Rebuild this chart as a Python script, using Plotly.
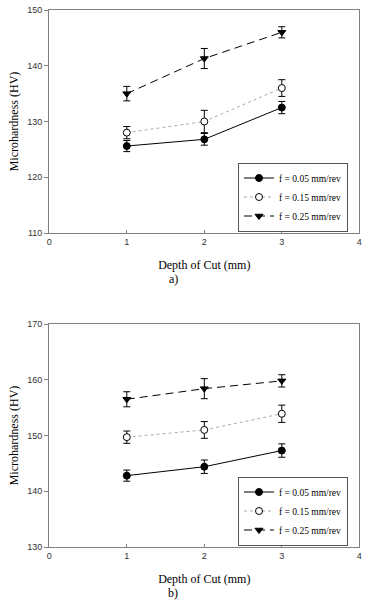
import plotly.graph_objects as go

depth = [1, 2, 3]
series_names = ["f = 0.05 mm/rev", "f = 0.15 mm/rev", "f = 0.25 mm/rev"]

# panel a)
a_f005 = [125.6, 126.8, 132.5]
a_f005_err = [1.0, 1.05, 1.1]
a_f015 = [128.0, 130.0, 136.0]
a_f015_err = [1.1, 2.0, 1.5]
a_f025 = [135.0, 141.3, 146.0]
a_f025_err = [1.3, 1.8, 1.0]

# panel b)
b_f005 = [142.8, 144.4, 147.3]
b_f005_err = [1.0, 1.2, 1.2]
b_f015 = [149.7, 151.0, 153.9]
b_f015_err = [1.1, 1.5, 1.55]
b_f025 = [156.5, 158.4, 159.8]
b_f025_err = [1.35, 1.8, 1.1]

x_ticks = [0, 1, 2, 3, 4]
a_yticks = [110, 120, 130, 140, 150]
b_yticks = [130, 140, 150, 160, 170]

W, H = 372, 603
serif = "Liberation Serif, Times New Roman, serif"
sans = "Liberation Sans, Arial, sans-serif"

styles = [
    dict(line=dict(color="black", width=1, dash="solid"),
         marker=dict(symbol="circle", size=7, color="black", line=dict(color="black", width=1))),
    dict(line=dict(color="#aaaaaa", width=1, dash="dot"),
         marker=dict(symbol="circle", size=7, color="white", line=dict(color="black", width=1))),
    dict(line=dict(color="black", width=1, dash="8px,5px"),
         marker=dict(symbol="triangle-down", size=7, color="black", line=dict(color="black", width=1))),
]

fig = go.Figure()

panels = [
    ("x", "y", "legend", [(a_f005, a_f005_err), (a_f015, a_f015_err), (a_f025, a_f025_err)]),
    ("x2", "y2", "legend2", [(b_f005, b_f005_err), (b_f015, b_f015_err), (b_f025, b_f025_err)]),
]
for xa, ya, leg, data in panels:
    for i, (vals, errs) in enumerate(data):
        fig.add_trace(go.Scatter(
            x=depth, y=vals, name=series_names[i], mode="lines+markers",
            xaxis=xa, yaxis=ya, legend=leg,
            error_y=dict(type="data", array=errs, visible=True, color="black",
                         thickness=1, width=3.5),
            **styles[i]))

def px_to_py(p):
    return 1 - p / H

xdom = [49.3 / W, 359.3 / W]
axis_common = dict(showline=True, linecolor="#808080", linewidth=1.2, mirror=True,
                   showgrid=False, zeroline=False, automargin=False,
                   tickfont=dict(family=sans, size=9, color="#333333"),
                   title_font=dict(family=serif, size=12, color="black"))

legend_common = dict(x=238 / W, xanchor="left", yanchor="middle",
                     bgcolor="white", bordercolor="#555555", borderwidth=1,
                     font=dict(family=serif, size=9.5, color="black"),
                     tracegroupgap=0, itemwidth=30)

fig.update_layout(
    width=W, height=H, margin=dict(l=0, r=0, t=0, b=0, autoexpand=False),
    plot_bgcolor="white", paper_bgcolor="white", showlegend=True,
    xaxis=dict(domain=xdom, range=[0, 4], tickvals=x_ticks, ticks="inside", ticklen=3,
               tickcolor="#808080", anchor="y",
               title=dict(text="Depth of Cut (mm)", standoff=14), **axis_common),
    yaxis=dict(domain=[px_to_py(233), px_to_py(10)], range=[110, 150], tickvals=a_yticks,
               ticks="outside", ticklen=4, tickcolor="#808080", anchor="x",
               title=dict(text="Microhardness (HV)", standoff=6), **axis_common),
    xaxis2=dict(domain=xdom, range=[0, 4], tickvals=x_ticks, ticks="inside", ticklen=3,
                tickcolor="#808080", anchor="y2",
                title=dict(text="Depth of Cut (mm)", standoff=14), **axis_common),
    yaxis2=dict(domain=[px_to_py(547), px_to_py(324)], range=[130, 170], tickvals=b_yticks,
                ticks="outside", ticklen=4, tickcolor="#808080", anchor="x2",
                title=dict(text="Microhardness (HV)", standoff=6), **axis_common),
    legend=dict(y=px_to_py(197), **legend_common),
    legend2=dict(y=px_to_py(511), **legend_common),
    annotations=[
        dict(text="a)", x=173 / W, y=px_to_py(279), xref="paper", yref="paper",
             xanchor="center", yanchor="middle",
             showarrow=False, font=dict(family=serif, size=12, color="black")),
        dict(text="b)", x=173 / W, y=px_to_py(593), xref="paper", yref="paper",
             xanchor="center", yanchor="middle",
             showarrow=False, font=dict(family=serif, size=12, color="black")),
    ],
)

fig.write_html("out.html", config={"displayModeBar": False},
               post_script="document.body.style.margin='0';document.body.style.overflow='hidden';")
